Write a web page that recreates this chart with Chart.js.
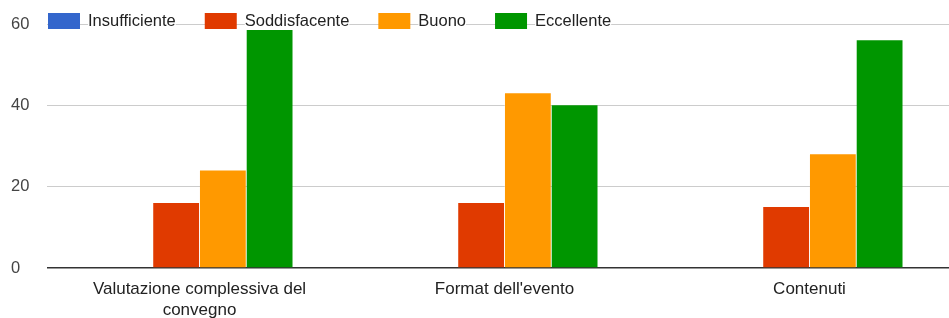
<!DOCTYPE html>
<html>
<head>
<meta charset="utf-8">
<script src="https://cdn.jsdelivr.net/npm/chart.js@4.4.1/dist/chart.umd.min.js"></script>
<style>
  body { margin: 0; background: #fff; overflow: hidden; }
  #outer { width: 949px; height: 318px; overflow: hidden; }
  /* l'area del grafico originale esce un po' dal bordo destro */
  #wrap { width: 962px; height: 318px; }
</style>
</head>
<body>
<div id="outer"><div id="wrap"><canvas id="chart"></canvas></div></div>
<script>
const categories = [
  ["Valutazione complessiva del", "convegno"],
  "Format dell'evento",
  "Contenuti",
];
const seriesNames = ["Insufficiente", "Soddisfacente", "Buono", "Eccellente"];
const insufficiente = [0, 0, 0];
const soddisfacente = [16, 16, 15];
const buono = [24, 43, 28];
const eccellente = [59, 40, 56];
const yTicks = [0, 20, 40, 60];

const colors = ["#3366cc", "#e03a00", "#ff9900", "#009600"];
const FONT = "'Liberation Sans', Arial, sans-serif";

// legenda disegnata sopra la griglia, come nel grafico originale
const overlayLegend = {
  id: "overlayLegend",
  afterDraw(chart) {
    const ctx = chart.ctx;
    const top = 13;
    let x = 48;
    ctx.save();
    ctx.font = "16.5px " + FONT;
    ctx.textBaseline = "middle";
    chart.data.datasets.forEach((ds) => {
      ctx.fillStyle = ds.backgroundColor;
      ctx.fillRect(x, top, 32, 16);
      x += 40;
      const w = ctx.measureText(ds.label).width;
      ctx.fillStyle = "#fff";
      ctx.fillRect(x, top - 1, w, 18);
      ctx.fillStyle = "#222";
      ctx.fillText(ds.label, x, top + 8.5);
      x += w + 29;
    });
    ctx.restore();
  },
};

const values = [insufficiente, soddisfacente, buono, eccellente];

new Chart(document.getElementById("chart"), {
  type: "bar",
  data: {
    labels: categories,
    datasets: seriesNames.map((name, i) => ({
      label: name,
      data: values[i],
      backgroundColor: colors[i],
      borderWidth: 0,
      categoryPercentage: 0.613,
      barPercentage: 0.98,
    })),
  },
  options: {
    responsive: true,
    maintainAspectRatio: false,
    animation: false,
    layout: { padding: { left: 11, top: 24, right: 0, bottom: 0 } },
    plugins: {
      legend: { display: false },
      tooltip: { enabled: false },
    },
    scales: {
      x: {
        grid: { display: false },
        border: { display: false },
        ticks: {
          color: "#222",
          font: { family: FONT, size: 17, lineHeight: 1.28 },
          padding: 2,
          maxRotation: 0,
          autoSkip: false,
        },
        afterFit(scale) {
          scale.height = 50;
        },
      },
      y: {
        min: 0,
        max: 60,
        afterBuildTicks(scale) {
          scale.ticks = yTicks.map((v) => ({ value: v }));
        },
        grid: {
          drawTicks: false,
          color: (c) => (c.tick && c.tick.value === 0 ? "#333" : "#cccccc"),
          lineWidth: (c) => (c.tick && c.tick.value === 0 ? 1.5 : 1),
        },
        border: { display: false },
        ticks: {
          color: "#444",
          font: { family: FONT, size: 16.5 },
          crossAlign: "far",
          padding: 0,
        },
        afterFit(scale) {
          scale.width = 36;
        },
      },
    },
  },
  plugins: [overlayLegend],
});
</script>
</body>
</html>
